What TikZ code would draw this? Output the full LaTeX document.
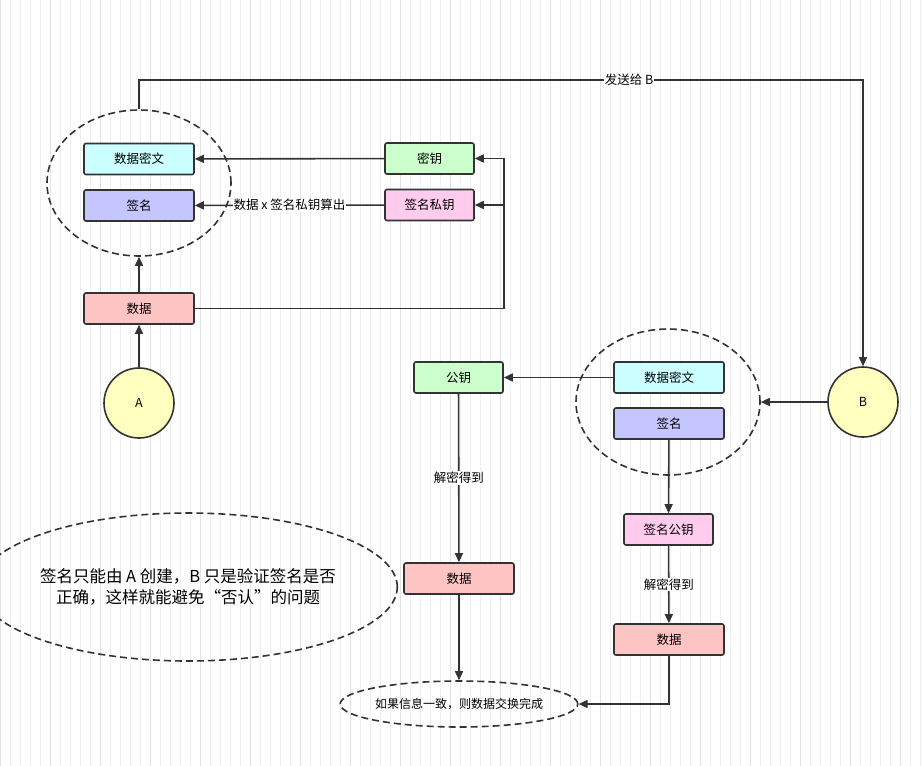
\documentclass[tikz,border=0pt]{standalone}
\usepackage{fontspec}
\setmainfont{Noto Sans CJK SC}
\usetikzlibrary{shapes.geometric,arrows.meta}
\definecolor{cy}{HTML}{CCFFFF}\definecolor{lv}{HTML}{C6C6FF}
\definecolor{gr}{HTML}{CCFFCC}\definecolor{pk}{HTML}{FFCCEE}
\definecolor{rd}{HTML}{FFC4C4}\definecolor{yl}{HTML}{FFFFC0}
\definecolor{ln}{HTML}{333333}
\begin{document}
\begin{tikzpicture}[x=1pt,y=-1pt,
 box/.style={draw=ln,line width=1.6pt,rounded corners=2pt,minimum height=31pt,font=\fontsize{12.5}{14}\selectfont,inner sep=0pt},
 cir/.style={circle,draw=ln,line width=1.6pt,fill=yl,minimum size=70pt,font=\fontsize{12.5}{14}\selectfont},
 ell/.style={ellipse,draw=ln,line width=1.6pt,dash pattern=on 7pt off 4pt,inner sep=0pt},
 arr/.style={draw=ln,line width=1.6pt,-{Triangle[length=9pt,width=8pt]}},
 lab/.style={fill=white,font=\fontsize{12.5}{14}\selectfont,inner sep=1pt}]
\useasboundingbox (0,0) rectangle (922,766);
\fill[white] (0,0) rectangle (922,766);
\draw[black!6,line width=0.4pt,step=10] (0,0) grid (922,766);
\draw[black!11,line width=0.6pt,step=50] (0,0) grid (922,766);
% top-left group
\node[ell,minimum width=184pt,minimum height=146pt] (e1) at (139,183) {};
\node[box,fill=cy,minimum width=110pt] (c1) at (139,159) {数据密文};
\node[box,fill=lv,minimum width=110pt] (s1) at (139,205.5) {签名};
\node[box,fill=gr,minimum width=89pt] (k) at (429.5,158.5) {密钥};
\node[box,fill=pk,minimum width=89pt] (pk) at (429.5,205) {签名私钥};
\node[box,fill=rd,minimum width=110pt] (d1) at (139,308.5) {数据};
\node[cir] (A) at (139,403) {A};
\node[cir] (B) at (863,402) {B};
% right group
\node[ell,minimum width=184pt,minimum height=146pt] (e2) at (668,402) {};
\node[box,fill=cy,minimum width=110pt] (c2) at (669,377.5) {数据密文};
\node[box,fill=lv,minimum width=110pt] (s2) at (669,423.5) {签名};
\node[box,fill=gr,minimum width=89pt] (pub) at (458.5,377.5) {公钥};
\node[box,fill=rd,minimum width=110pt] (d2) at (459,578.5) {数据};
\node[box,fill=pk,minimum width=89pt] (spub) at (668.5,529.5) {签名公钥};
\node[box,fill=rd,minimum width=110pt] (d3) at (669,639.5) {数据};
\node[ell,minimum width=224pt,minimum height=46pt,font=\fontsize{12}{14}\selectfont] (fin) at (459,704) {如果信息一致，则数据交换完成};
\node[ell,minimum width=348pt,minimum height=148pt,align=center,font=\fontsize{16.5}{21}\selectfont] (note) at (188,587) {签名只能由 A 创建，B 只是验证签名是否\\正确，这样就能避免“否认”的问题};
% connectors
\draw[arr] (A) -- (d1);
\draw[arr] (d1) -- (e1.south);
\coordinate (j) at (504,308.5);
\draw[arr] (d1.east) -- (j) -- (504,158.5) -- (k.east);
\draw[arr] (504,205) -- (pk.east);
\draw[arr] (k) -- (c1);
\draw[arr] (pk) -- node[lab]{数据 x 签名私钥算出} (s1);
\draw[arr] (e1.north) -- (139,80) -- node[lab,pos=0.677]{发送给 B} (863,80) -- (B.north);
\draw[arr] (B) -- (e2.east);
\draw[arr] (c2) -- (pub);
\draw[arr] (pub) -- node[lab]{解密得到} (d2);
\draw[arr] (s2) -- (spub);
\draw[arr] (spub) -- node[lab]{解密得到} (d3);
\draw[arr] (d2) -- (fin.north);
\draw[arr] (d3.south) -- (669,704) -- (fin.east);
\end{tikzpicture}
\end{document}
